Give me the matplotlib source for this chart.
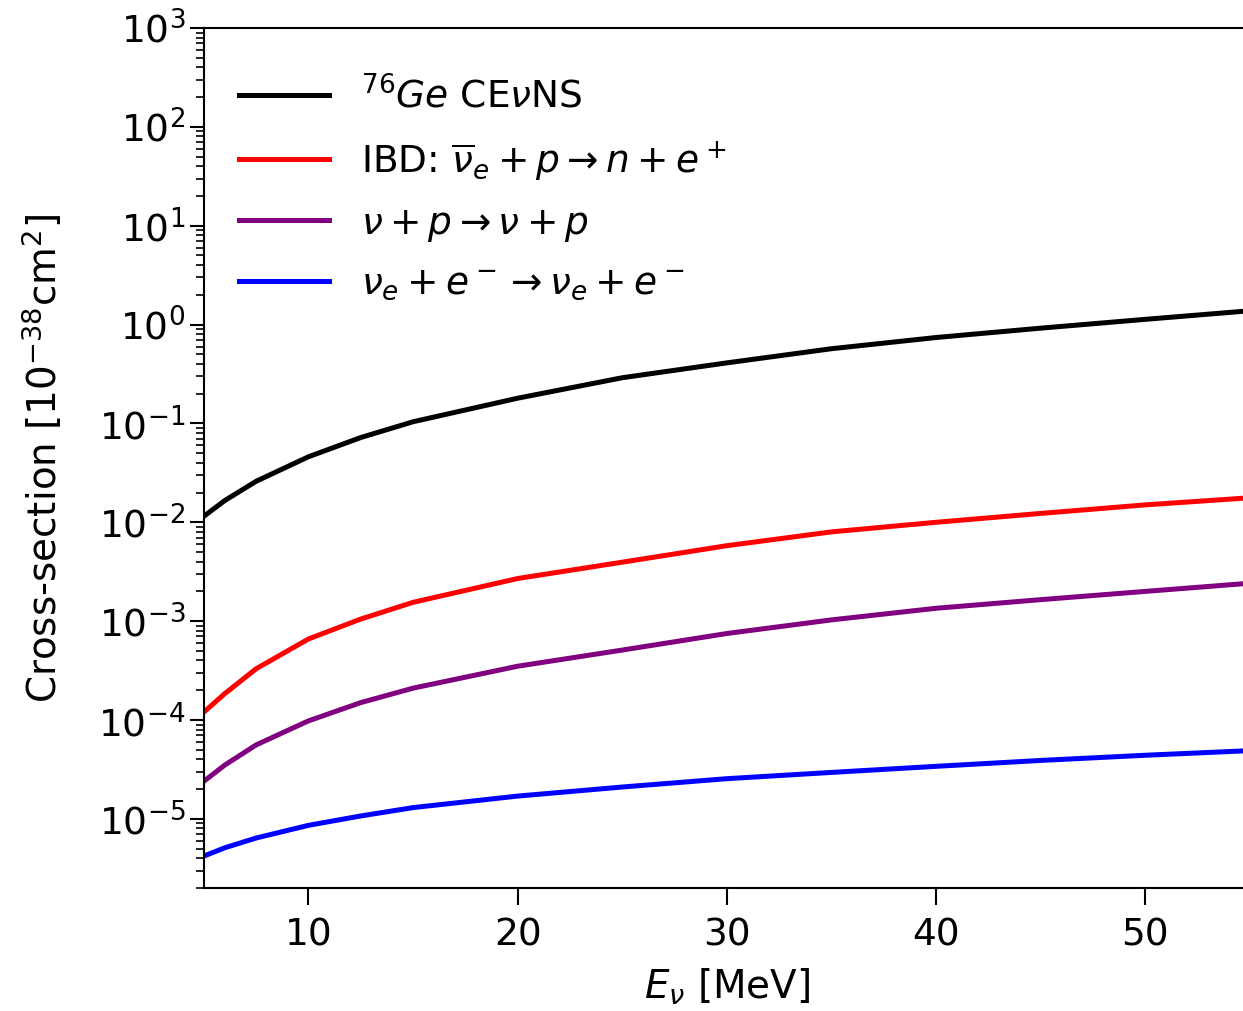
import numpy as np
import matplotlib.pyplot as plt
from matplotlib.ticker import LogLocator, NullFormatter

# values (E in MeV, cross-section in 1e-38 cm^2)
E_nu = [5, 6, 7.5, 10, 12.5, 15, 20, 25, 30, 35, 40, 45, 50, 55]
xs_cevns = [0.0115, 0.0166, 0.026, 0.046, 0.072, 0.104, 0.18, 0.29, 0.41, 0.57, 0.74, 0.92, 1.13, 1.38]
xs_ibd = [1.2e-4, 1.85e-4, 3.3e-4, 6.6e-4, 1.05e-3, 1.55e-3, 2.7e-3, 3.95e-3, 5.8e-3, 8.0e-3, 1.0e-2, 1.23e-2, 1.5e-2, 1.77e-2]
xs_nup = [2.4e-5, 3.5e-5, 5.6e-5, 9.8e-5, 1.5e-4, 2.1e-4, 3.5e-4, 5.1e-4, 7.5e-4, 1.03e-3, 1.35e-3, 1.65e-3, 2.0e-3, 2.42e-3]
xs_nue = [4.2e-6, 5.1e-6, 6.4e-6, 8.6e-6, 1.07e-5, 1.3e-5, 1.7e-5, 2.1e-5, 2.55e-5, 2.95e-5, 3.4e-5, 3.9e-5, 4.4e-5, 4.9e-5]

labels = [r'$^{76}Ge$ CE$\nu$NS',
          r'IBD: $\overline{\nu}_e + p \rightarrow n + e^+$',
          r'$\nu + p \rightarrow \nu + p$',
          r'$\nu_e + e^- \rightarrow \nu_e + e^-$']
colors = ['black', 'red', 'purple', 'blue']
ytick_vals = [1e-5, 1e-4, 1e-3, 1e-2, 1e-1, 1e0, 1e1, 1e2, 1e3]

plt.rcParams['font.size'] = 27
plt.rcParams['axes.linewidth'] = 1.5

fig = plt.figure(figsize=(12.43, 10.11), dpi=100)
ax = fig.add_axes([0.164, 0.1217, 0.8416, 0.8506])

for ys, lab, c in zip([xs_cevns, xs_ibd, xs_nup, xs_nue], labels, colors):
    ax.plot(E_nu, ys, color=c, lw=3.6, label=lab)

ax.set_yscale('log')
ax.set_xlim(5, 55)
ax.set_ylim(2e-6, 1e3)
ax.set_yticks(ytick_vals)
ax.yaxis.set_minor_locator(LogLocator(base=10, subs=np.arange(2, 10), numticks=100))
ax.yaxis.set_minor_formatter(NullFormatter())
ax.set_xticks([10, 20, 30, 40, 50])
ax.tick_params(which='major', length=10, width=1.5, labelsize=27)
ax.tick_params(which='minor', length=6, width=1.2)
ax.tick_params(axis='x', which='major', length=12, pad=9)

ax.set_xlabel(r'$E_\nu$ [MeV]', fontsize=28, labelpad=10)
ax.set_ylabel(r'Cross-section [$10^{-38}$cm$^2$]', fontsize=28, labelpad=24)

ax.legend(loc='upper left', bbox_to_anchor=(-0.013, 1.0), frameon=False,
          fontsize=27, handlelength=2.4, handletextpad=0.85,
          labelspacing=0.61, borderaxespad=0.9)

fig.savefig('out.png', dpi=100)
